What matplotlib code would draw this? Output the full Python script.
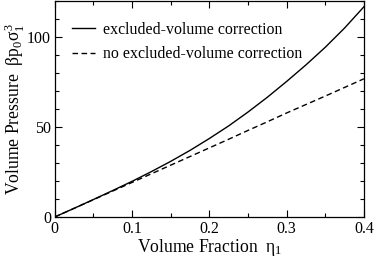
import numpy as np
import matplotlib as mpl
import matplotlib.pyplot as plt
from matplotlib.ticker import MultipleLocator

# volume fraction eta_1
eta = [0.0, 0.025, 0.05, 0.075, 0.1, 0.125, 0.15, 0.175, 0.2,
       0.225, 0.25, 0.275, 0.3, 0.325, 0.35, 0.375, 0.4]
# with excluded-volume correction
p_corr = [0.0, 4.8, 9.7, 14.7, 19.8, 25.2, 30.9, 37.0, 43.6,
          50.6, 58.3, 66.5, 75.3, 84.5, 94.3, 105.0, 116.8]
# without excluded-volume correction
p_nocorr = [0.0, 4.8, 9.6, 14.4, 19.2, 24.0, 28.8, 33.6, 38.4,
            43.2, 48.1, 52.9, 57.8, 62.5, 67.2, 72.0, 76.8]

mpl.rcParams['font.family'] = ['Liberation Serif', 'DejaVu Serif']
mpl.rcParams['mathtext.fontset'] = 'custom'
mpl.rcParams['mathtext.rm'] = 'Liberation Serif'
mpl.rcParams['mathtext.it'] = 'Liberation Serif'
mpl.rcParams['font.size'] = 11.5

fig = plt.figure(figsize=(3.74, 2.59), dpi=100)
axes = fig.add_axes([0.146, 0.162, 0.827, 0.834])

axes.plot(eta, p_corr, lw=1.0, color='black',
          label='excluded-volume correction')
axes.plot(eta, p_nocorr, lw=1.0, color='black', dashes=(4, 2.5),
          label='no excluded-volume correction')

axes.set_xlim(0, 0.4)
axes.set_ylim(0, 120)
axes.xaxis.set_major_locator(MultipleLocator(0.1))
axes.xaxis.set_minor_locator(MultipleLocator(0.05))
axes.yaxis.set_major_locator(MultipleLocator(50))
axes.yaxis.set_minor_locator(MultipleLocator(10))
axes.xaxis.set_major_formatter(
    mpl.ticker.FuncFormatter(lambda v, p: '0' if v == 0 else f'{v:.1f}'))
axes.tick_params(which='both', direction='in', top=True, right=True,
                 width=0.8)
axes.tick_params(axis='x', which='major', pad=3)
axes.tick_params(axis='y', which='major', pad=2.5)
axes.tick_params(which='major', length=5)
axes.tick_params(which='minor', length=3)
for sp in axes.spines.values():
    sp.set_linewidth(0.9)

axes.set_xlabel(r'Volume Fraction  $\eta_1$', fontsize=12.7, labelpad=0)
axes.set_ylabel(r'Volume Pressure  $\beta p_0 \sigma_1^3$', fontsize=12.7,
                labelpad=0)

axes.legend(loc='upper left', bbox_to_anchor=(0.011, 0.97), frameon=False,
            handlelength=1.45, handletextpad=0.5, labelspacing=0.55,
            fontsize=11.4)

plt.savefig('out.png', dpi=100)
plt.close(fig)
